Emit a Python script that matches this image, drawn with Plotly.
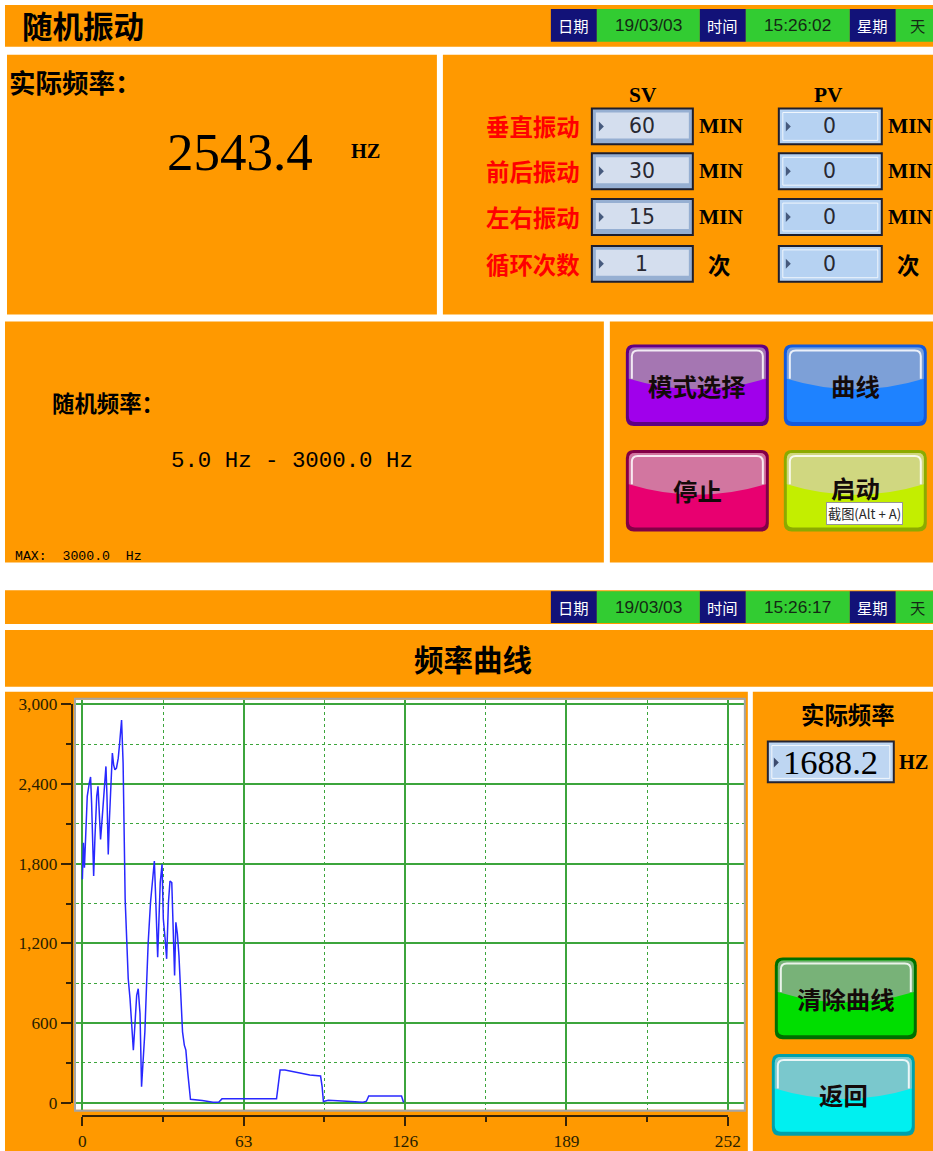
import plotly.graph_objects as go

# ---------------- data ----------------
sample_idx = [0, 0.4, 0.8, 1.4, 1.9, 2.7, 3.2, 3.6, 4.0, 4.4, 4.9, 5.6, 6.1, 6.6, 7.1, 7.5,
              8.2, 8.8, 9.2, 9.6, 10.1, 10.5, 11.2, 11.7, 12.2, 12.7, 13.3, 14.0, 14.6, 15.3,
              15.9, 16.3, 16.7, 17.3, 17.9, 18.6, 19.2, 19.9, 20.5, 21.2, 21.8, 22.5, 23.1,
              23.8, 24.4, 25.1, 25.7, 26.6, 27.4, 28.1, 28.5, 29.0, 29.4, 29.9, 30.4, 31.1,
              31.6, 32.3, 32.9, 33.6, 34.2, 34.9, 35.5, 36.0, 36.5, 37.1, 37.7, 38.2, 38.7,
              39.1, 39.8, 40.4, 41.1, 41.7, 42.2, 46.8, 51.0, 53.2, 54.5, 75.8, 76.6, 77.2,
              79.1, 83.6, 88.8, 93.0, 93.6, 94.1, 96.0, 103.2, 109.6, 110.9, 111.8, 124.6, 125.4]
freq_hz = [1683, 1958, 1770, 2108, 2308, 2408, 2453, 2258, 1883, 1708, 1995, 2308, 2383, 2183,
           1983, 2083, 2283, 2470, 2533, 2308, 1870, 2108, 2508, 2633, 2545, 2508, 2520, 2595,
           2720, 2883, 2558, 1933, 1533, 1233, 933, 783, 608, 395, 583, 808, 858, 670, 120,
           358, 533, 908, 1208, 1508, 1683, 1820, 1608, 1233, 1095, 1383, 1658, 1795, 1383,
           1233, 1083, 1508, 1670, 1658, 1158, 958, 1358, 1270, 1108, 933, 733, 533, 433, 395,
           233, 95, 25, 15, 3, 3, 28, 28, 150, 245, 245, 228, 208, 200, 120, 8, 18, 10, 3, 10,
           50, 50, 0]

x_ticks = [0, 63, 126, 189, 252]
x_minor = [31.5, 94.5, 157.5, 220.5]
y_ticks = [0, 600, 1200, 1800, 2400, 3000]
y_tick_labels = ["0", "600", "1,200", "1,800", "2,400", "3,000"]
y_minor = [300, 900, 1500, 2100, 2700]

rows = ["垂直振动", "前后振动", "左右振动", "循环次数"]
sv_values = ["60", "30", "15", "1"]
pv_values = ["0", "0", "0", "0"]
units = ["MIN", "MIN", "MIN", "次"]

actual_freq_1 = "2543.4"
actual_freq_2 = "1688.2"

# ---------------- helpers ----------------
# Layout positions are written in screen pixels of the target picture and mapped
# onto the 933x1151 figure with a small calibration (scale S, offset CX/CY).
W, H = 933, 1151
S = 0.982
CX, CY = 4.0, 9.0
K = 1 / S  # size factor for fonts / lengths

CJK = "Noto Sans CJK SC"
SERIF = "Liberation Serif"
MONO = "Liberation Mono"
NARROW = "Liberation Sans Narrow, Liberation Sans"
ORANGE = "rgb(255,153,0)"
NAVY = "rgb(18,18,120)"
GREEN = "rgb(50,204,50)"

shapes = []
annos = []


def fx(x):
    return ((x - CX) / S) / W


def fy(y):
    return 1 - ((y - CY) / S) / H


def P(x, y):
    return f"{fx(x):.5f},{fy(y):.5f}"


def rect(x0, y0, x1, y1, fill, line_color=None, lw=0, layer="below"):
    shapes.append(dict(type="rect", xref="paper", yref="paper",
                       x0=fx(x0), x1=fx(x1), y0=fy(y1), y1=fy(y0),
                       fillcolor=fill,
                       line=dict(width=lw, color=line_color or "rgba(0,0,0,0)"),
                       layer=layer))


def rpath(x0, y0, x1, y1, r):
    return (f"M {P(x0 + r, y0)} L {P(x1 - r, y0)} Q {P(x1, y0)} {P(x1, y0 + r)} "
            f"L {P(x1, y1 - r)} Q {P(x1, y1)} {P(x1 - r, y1)} L {P(x0 + r, y1)} "
            f"Q {P(x0, y1)} {P(x0, y1 - r)} L {P(x0, y0 + r)} Q {P(x0, y0)} {P(x0 + r, y0)} Z")


def path(d, fill=None, line_color=None, lw=0, layer="above", opacity=1):
    shapes.append(dict(type="path", xref="paper", yref="paper", path=d,
                       fillcolor=fill or "rgba(0,0,0,0)",
                       line=dict(width=lw, color=line_color or "rgba(0,0,0,0)"),
                       layer=layer, opacity=opacity))


def txt(x, y, s, size, color="black", family=CJK, xanchor="center", bold=False, **kw):
    annos.append(dict(x=fx(x), y=fy(y), xref="paper", yref="paper",
                      text=f"<b>{s}</b>" if bold else s, showarrow=False,
                      xanchor=xanchor, yanchor="middle",
                      font=dict(family=family, size=round(size * K, 1), color=color), **kw))


def button(x0, y0, x1, y1, label, border, top, bottom, size=24, text_dy=0):
    r = 8
    path(rpath(x0, y0, x1, y1, r), fill=border)
    ix0, iy0, ix1, iy1 = x0 + 3, y0 + 3, x1 - 3, y1 - 4
    path(rpath(ix0, iy0, ix1, iy1, r - 2), fill=bottom)
    h = iy1 - iy0
    ym = iy0 + 0.42 * h
    cx = (ix0 + ix1) / 2
    ctrl = ym + 2 * 0.14 * h
    rr = r - 2
    d = (f"M {P(ix0, ym)} L {P(ix0, iy0 + rr)} Q {P(ix0, iy0)} {P(ix0 + rr, iy0)} "
         f"L {P(ix1 - rr, iy0)} Q {P(ix1, iy0)} {P(ix1, iy0 + rr)} L {P(ix1, ym)} "
         f"Q {P(cx, ctrl)} {P(ix0, ym)} Z")
    path(d, fill=top)
    hx0, hy0, hx1 = ix0 + 3, iy0 + 3, ix1 - 3
    d2 = (f"M {P(hx0, ym)} L {P(hx0, hy0 + 6)} Q {P(hx0, hy0)} {P(hx0 + 6, hy0)} "
          f"L {P(hx1 - 6, hy0)} Q {P(hx1, hy0)} {P(hx1, hy0 + 6)} L {P(hx1, ym)}")
    path(d2, line_color="white", lw=2, opacity=0.85)
    txt(cx, (y0 + y1) / 2 + text_dy, label, size, color="rgb(20,10,10)", bold=True)


def triangle(x, yc, color="rgb(70,90,125)"):
    path(f"M {P(x, yc - 5)} L {P(x + 5, yc)} L {P(x, yc + 5)} Z", fill=color)


def date_bar(y0, y1, time_text):
    items = [(551, 597, NAVY, "日期", "white", CJK, 15),
             (597, 700, GREEN, "19/03/03", "rgb(20,40,20)", NARROW, 17),
             (700, 746, NAVY, "时间", "white", CJK, 15),
             (746, 850, GREEN, time_text, "rgb(20,40,20)", NARROW, 17),
             (850, 896, NAVY, "星期", "white", CJK, 15),
             (896, 945, GREEN, "天", "rgb(20,40,20)", CJK, 15)]
    for a, b, c, t, tc, fam, sz in items:
        rect(a, y0, b, y1, c, layer="above")
        tx = (a + b) / 2 if t != "天" else 918
        txt(tx, (y0 + y1) / 2, t, sz, color=tc, family=fam)


# ---------------- screen 1 ----------------
rect(5, 5, 945, 47, ORANGE)
txt(20, 25, "随机振动", 30, family=CJK, xanchor="left", bold=True)
date_bar(9, 42, "15:26:02")

rect(7, 55, 437, 316, ORANGE)
txt(7, 82, "实际频率：", 26, xanchor="left", bold=True)
txt(240, 153, actual_freq_1, 52, family=SERIF)
txt(366, 152, "HZ", 20, family=SERIF, bold=True)

rect(443, 55, 945, 316, ORANGE)
txt(643, 95, "SV", 21, family=SERIF, bold=True)
txt(829, 95, "PV", 21, family=SERIF, bold=True)
row_top = [109, 154, 200, 247]
for i, lab in enumerate(rows):
    t = row_top[i]
    b = t + 36
    yc = (t + b) / 2
    txt(582, yc, lab, 23, color="rgb(255,0,0)", xanchor="right", bold=True)
    # SV box
    rect(592, t, 693, b, "rgb(150,175,210)", line_color="rgb(30,30,45)", lw=2, layer="above")
    rect(596, t + 4, 689, b - 6, "rgb(212,222,238)", layer="above")
    triangle(599, yc)
    txt(642, yc, sv_values[i], 20, color="rgb(40,40,50)", family="DejaVu Sans")
    # PV box
    rect(779, t, 882, b, "rgb(182,210,242)", line_color="rgb(30,30,45)", lw=2, layer="above")
    rect(783, t + 4, 878, b - 4, "rgba(0,0,0,0)", line_color="rgba(255,255,255,0.8)", lw=1, layer="above")
    triangle(786, yc)
    txt(830, yc, pv_values[i], 20, color="rgb(40,40,50)", family="DejaVu Sans")
    u = units[i]
    if u == "MIN":
        txt(697, yc, u, 21, family=SERIF, xanchor="left", bold=True)
        txt(886, yc, u, 21, family=SERIF, xanchor="left", bold=True)
    else:
        txt(719, yc, u, 22, bold=True)
        txt(908, yc, u, 22, bold=True)

rect(5, 323, 604, 565, ORANGE)
txt(50, 404, "随机频率：", 22, xanchor="left", bold=True)
txt(292, 463, "5.0 Hz - 3000.0 Hz", 22, family=MONO)
txt(13, 559, "MAX:  3000.0  Hz", 13, family=MONO, xanchor="left")

rect(610, 323, 945, 565, ORANGE)
button(626, 346, 769, 428, "模式选择", "rgb(95,0,130)", "rgb(165,118,178)", "rgb(160,0,235)")
button(784, 346, 927, 428, "曲线", "rgb(20,90,220)", "rgb(125,160,215)", "rgb(30,130,255)")
button(626, 452, 769, 534, "停止", "rgb(130,0,70)", "rgb(210,118,160)", "rgb(232,0,112)")
button(784, 452, 927, 534, "启动", "rgb(140,170,0)", "rgb(208,215,128)", "rgb(195,238,0)", text_dy=-3)
# tooltip (drawn on top of the button text)
txt(865, 516, "截图(Alt + A)", 13, color="rgb(40,40,40)", family="Noto Sans CJK SC",
    bgcolor="white", bordercolor="rgb(150,150,150)", borderwidth=1, borderpad=1)

# ---------------- screen 2 ----------------
rect(5, 593, 945, 627, ORANGE)
date_bar(594, 626, "15:26:17")
rect(5, 633, 945, 690, ORANGE)
txt(473, 661, "频率曲线", 29, bold=True)

rect(5, 695, 748, 1170, ORANGE)
rect(753, 695, 945, 1170, ORANGE)

txt(848, 717, "实际频率", 23, bold=True)
rect(768, 745, 894, 786, "rgb(190,214,242)", line_color="rgb(35,35,50)", lw=2, layer="above")
rect(772, 749, 890, 782, "rgba(0,0,0,0)", line_color="rgba(255,255,255,0.8)", lw=1, layer="above")
triangle(774, 766, color="rgb(60,75,110)")
txt(831, 766, actual_freq_2, 34, family=SERIF)
txt(914, 766, "HZ", 20, family=SERIF, bold=True)
button(775, 962, 917, 1044, "清除曲线", "rgb(0,110,0)", "rgb(120,178,120)", "rgb(0,222,0)")
button(772, 1059, 915, 1141, "返回", "rgb(0,160,170)", "rgb(122,200,205)", "rgb(0,240,240)")

# white plot area and frame
PL, PR, PT, PB = 76, 745, 703, 1115
rect(PL, PT, PR, PB, "white")
rect(PL - 1, PT - 1, PR, PB + 1, "rgba(0,0,0,0)", line_color="rgb(165,165,165)", lw=2, layer="above")

# ---------------- chart axes ----------------
X0PX, X252PX = 82.4, 728.0
Y0PX, Y3000PX = 1107.7, 707.7
xppu = (X252PX - X0PX) / 252
yppu = (Y0PX - Y3000PX) / 3000
x_range = [(PL - X0PX) / xppu, (PR - X0PX) / xppu]
y_range = [-(PB - Y0PX) / yppu, (Y0PX - PT) / yppu]

GRID = "rgb(60,165,60)"
AXC = "rgb(55,35,5)"

fig = go.Figure()
fig.add_trace(go.Scatter(x=sample_idx, y=freq_hz, mode="lines", opacity=0,
                         line=dict(width=0), xaxis="x2", yaxis="y2", hoverinfo="skip"))
fig.add_trace(go.Scatter(x=sample_idx, y=freq_hz, mode="lines",
                         line=dict(color="rgb(40,40,255)", width=1.5),
                         xaxis="x", yaxis="y", hoverinfo="skip"))

fig.update_layout(
    width=W, height=H, margin=dict(l=0, r=0, t=0, b=0),
    paper_bgcolor="white", plot_bgcolor="rgba(0,0,0,0)", showlegend=False,
    shapes=shapes, annotations=annos,
    xaxis=dict(domain=[fx(PL), fx(PR)], range=x_range, anchor="y",
               tickmode="array", tickvals=x_ticks, showticklabels=False, ticks="",
               showgrid=True, gridcolor=GRID, gridwidth=1.5, zeroline=False, showline=False,
               minor=dict(tickmode="array", tickvals=x_minor, showgrid=True, gridcolor=GRID,
                          griddash="dot", gridwidth=1.2)),
    yaxis=dict(domain=[fy(PB), fy(PT)], range=y_range, anchor="x",
               tickmode="array", tickvals=y_ticks, showticklabels=False, ticks="",
               showgrid=True, gridcolor=GRID, gridwidth=1.5, zeroline=False, showline=False,
               minor=dict(tickmode="array", tickvals=y_minor, showgrid=True, gridcolor=GRID,
                          griddash="dot", gridwidth=1.2)),
    xaxis2=dict(domain=[fx(X0PX), fx(X252PX)], range=[0, 252], anchor="free",
                position=fy(1121), side="bottom",
                tickmode="array", tickvals=x_ticks, ticktext=[str(v) for v in x_ticks],
                ticks="outside", ticklen=9 * K, tickwidth=2, tickcolor=AXC,
                showline=True, linecolor=AXC, linewidth=2, showgrid=False, zeroline=False,
                tickfont=dict(family=SERIF, size=17 * K, color="rgb(40,30,0)"),
                minor=dict(tickmode="array", tickvals=x_minor, ticks="outside",
                           ticklen=5 * K, tickwidth=2, tickcolor=AXC, showgrid=False)),
    yaxis2=dict(domain=[fy(Y0PX), fy(Y3000PX)], range=[0, 3000], anchor="free",
                position=fx(72), side="left",
                tickmode="array", tickvals=y_ticks, ticktext=y_tick_labels,
                ticks="outside", ticklen=10 * K, tickwidth=2, tickcolor=AXC,
                showline=True, linecolor=AXC, linewidth=2, showgrid=False, zeroline=False,
                tickfont=dict(family=SERIF, size=17 * K, color="rgb(40,30,0)"),
                minor=dict(tickmode="array", tickvals=y_minor, ticks="outside",
                           ticklen=5 * K, tickwidth=2, tickcolor=AXC, showgrid=False)),
)

fig.write_html("out.html", config={"displayModeBar": False},
               post_script="document.body.style.margin='0px';"
                           "document.body.style.overflow='hidden';")
